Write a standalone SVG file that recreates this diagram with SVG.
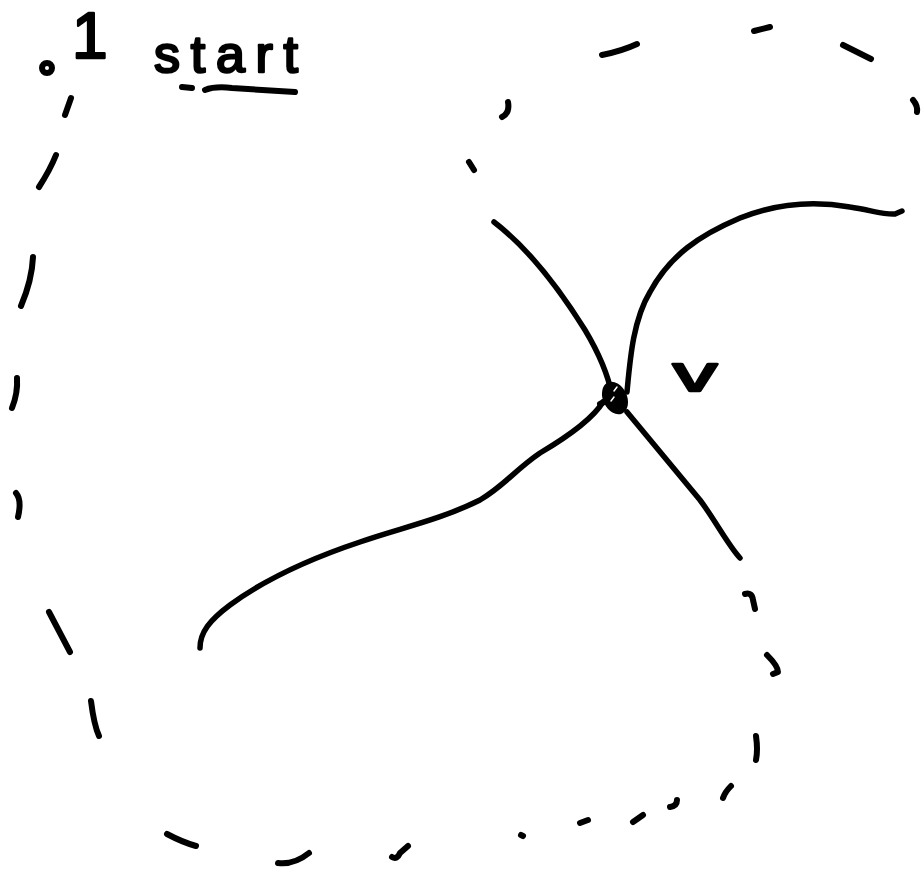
<svg xmlns="http://www.w3.org/2000/svg" width="923" height="872" viewBox="0 0 923 872">
  <style>
    .ink { fill: none; stroke: #000; stroke-width: 5.5; stroke-linecap: round; stroke-linejoin: round; }
    .dash { fill: none; stroke: #000; stroke-width: 6; stroke-linecap: round; stroke-linejoin: round; }
    .hand { font-family: "Liberation Sans", "DejaVu Sans", sans-serif; fill: #000; stroke: #000; stroke-width: 2.5; stroke-linejoin: round; }
  </style>
  <rect width="923" height="872" fill="#fff"/>

  <!-- dashed boundary of the region -->
  <g id="region">
    <path class="dash" d="M602,55 Q622,51 637,44"/>
    <path class="dash" d="M754,31 L770,27"/>
    <path class="dash" d="M843,45 L871,59"/>
    <path class="dash" d="M913,100 Q918,106 917,112"/>
    <path class="dash" d="M508,102 Q510,113 502,117"/>
    <path class="dash" d="M469,162 L474,170"/>
    <path class="dash" d="M71,98 L65,115"/>
    <path class="dash" d="M56,155 Q50,170 39,187"/>
    <path class="dash" d="M33,257 Q32,280 21,306"/>
    <path class="dash" d="M17,378 Q18,393 12,408"/>
    <path class="dash" d="M16,493 Q22,500 18,517"/>
    <path class="dash" d="M49,612 L70,652"/>
    <path class="dash" d="M91,701 Q94,725 99,736"/>
    <path class="dash" d="M167,834 Q182,842 196,846"/>
    <path class="dash" d="M278,863 Q294,865 309,853"/>
    <path class="dash" d="M392,857 Q397,860 400,853 L408,846"/>
    <path class="dash" d="M521,835 L523,836"/>
    <path class="dash" d="M580,823 L588,820"/>
    <path class="dash" d="M633,822 L643,815"/>
    <path class="dash" d="M670,807 Q677,806 677,800"/>
    <path class="dash" d="M723,798 Q725,792 731,786"/>
    <path class="dash" d="M756,736 Q758,750 756,760"/>
    <path class="dash" d="M767,655 Q778,666 778,672 L773,674"/>
    <path class="dash" d="M745,594 Q752,592 753,600 L755,609"/>
  </g>

  <!-- curves through the vertex -->
  <g id="edges">
    <path class="ink" d="M494,222 C528,248 560,290 585,330 C600,355 608,375 612,395"/>
    <path class="ink" d="M627,392 C630,360 633,320 650,292 C670,255 700,235 740,218 C775,204 810,200 850,207 C870,210 885,215 895,214 L902,211"/>
    <path class="ink" d="M603,402 C592,420 562,440 540,453 C515,470 505,485 480,500 C440,520 400,528 360,542 C300,562 260,583 230,605 C210,620 200,632 200,648"/>
    <path class="ink" d="M627,412 C650,440 675,470 700,500 C715,520 728,545 740,558"/>
  </g>

  <!-- vertex v -->
  <g id="node-v">
    <ellipse cx="615" cy="398" rx="12" ry="17" transform="rotate(-25 615 398)" fill="#000"/>
    <path d="M604,402 L600,404" stroke="#000" stroke-width="6" stroke-linecap="round"/>
    <path d="M614,391 L617,387 M611,401 L614,397" stroke="#fff" stroke-width="1.5" stroke-linecap="round" fill="none"/>
    <text class="hand" x="673" y="391" font-size="52" textLength="44" lengthAdjust="spacingAndGlyphs">v</text>
  </g>

  <!-- start label -->
  <g id="label-start">
    <circle cx="47" cy="68" r="5" fill="none" stroke="#000" stroke-width="6"/>
    <text class="hand" x="72" y="58" font-size="64">1</text>
    <text class="hand" x="154" y="72" font-size="52" textLength="144" lengthAdjust="spacing">start</text>
    <path class="dash" d="M182,87 L192,88"/>
    <path class="dash" d="M205,90 Q215,86 232,88 L295,92"/>
  </g>
</svg>
